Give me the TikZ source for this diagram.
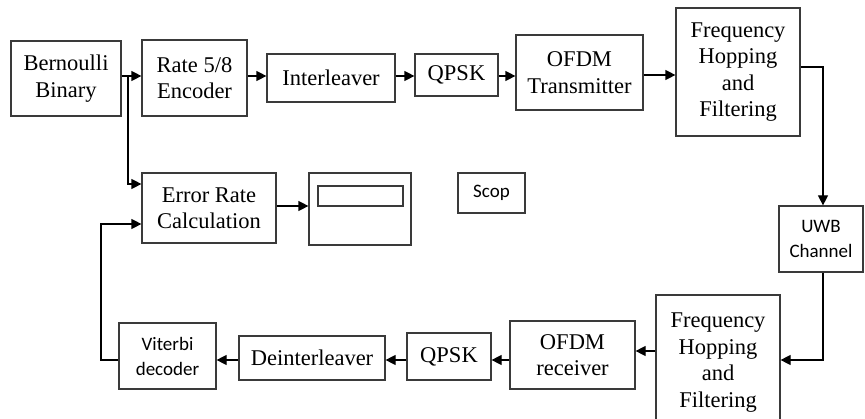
\documentclass[tikz,border=0pt]{standalone}
\usepackage{fontspec}
\setmainfont{Liberation Serif}
\newfontfamily\calfont{Carlito}
\usetikzlibrary{arrows.meta}
\definecolor{edge}{HTML}{3A3A3A}
\begin{document}
\begin{tikzpicture}[x=1pt,y=-1pt,
  box/.style={draw=edge,line width=1.2pt,fill=white,align=center,inner sep=0pt,
    font=\fontsize{22.5}{26.5}\selectfont},
  sbox/.style={box,font=\calfont\fontsize{19}{25}\selectfont},
  arr/.style={draw=edge,line width=1.2pt,-{Triangle[length=10pt,width=10pt]},color=black},
  ln/.style={draw=edge,line width=1.2pt}]
\useasboundingbox (0,0) rectangle (865,419);
\clip (0,0) rectangle (865,419);
% top row
\node[box,minimum width=110pt,minimum height=75pt] (bern) at (66,78.5) {Bernoulli\\Binary};
\node[box,minimum width=105pt,minimum height=76pt] (enc) at (194.5,78) {Rate 5/8\\Encoder};
\node[box,minimum width=128pt,minimum height=48pt] (inter) at (331,78) {Interleaver};
\node[box,minimum width=83pt,minimum height=42pt] (qpskt) at (456.5,75) {QPSK};
\node[box,minimum width=127pt,minimum height=75pt] (ofdmt) at (579.5,72.5) {OFDM\\Transmitter};
\node[box,minimum width=124pt,minimum height=128pt] (fht) at (738,72) {Frequency\\Hopping\\and\\Filtering};
\node[sbox,minimum width=84pt,minimum height=66pt] (uwb) at (821,239) {UWB\\Channel};
% middle
\node[box,minimum width=134pt,minimum height=70pt] (err) at (209,208) {Error Rate\\Calculation};
\node[box,minimum width=102pt,minimum height=72pt] (disp) at (360,209) {};
\node[draw=edge,line width=1.2pt,minimum width=85pt,minimum height=20pt,inner sep=0pt] (dispin) at (360.5,196) {};
\node[sbox,minimum width=67pt,minimum height=40pt] (scop) at (491.5,193) {Scop};
% bottom row
\node[box,minimum width=124pt,minimum height=135pt] (fhb) at (718,362.5) {Frequency\\Hopping\\and\\Filtering};
\node[box,minimum width=125pt,minimum height=68pt] (ofdmr) at (572.5,355) {OFDM\\receiver};
\node[box,minimum width=84pt,minimum height=47pt] (qpskb) at (449,356.5) {QPSK};
\node[box,minimum width=146pt,minimum height=44pt] (deint) at (312,358) {Deinterleaver};
\node[sbox,minimum width=97pt,minimum height=66pt] (vit) at (167.5,356) {Viterbi\\decoder};
% connectors top
\coordinate (br) at (128,76);
\draw[arr] (bern.east |- br) -- (enc.west |- br);
\draw[arr] (br) |- (err.west |- 0,184);
\draw[arr] (enc.east |- 0,76) -- (inter.west |- 0,76);
\draw[arr] (inter.east |- 0,76) -- (qpskt.west |- 0,76);
\draw[arr] (qpskt.east |- 0,76) -- (ofdmt.west |- 0,76);
\draw[arr] (ofdmt.east |- 0,75) -- (fht.west |- 0,75);
\coordinate (c1) at (823,67);
\draw[arr] (fht.east |- c1) -| (uwb.north -| c1);
\coordinate (c2) at (823,360);
\draw[arr] (uwb.south -| c2) |- (fhb.east |- c2);
% bottom
\draw[arr] (fhb.west |- 0,351) -- (ofdmr.east |- 0,351);
\draw[arr] (ofdmr.west |- 0,360) -- (qpskb.east |- 0,360);
\draw[arr] (qpskb.west |- 0,360) -- (deint.east |- 0,360);
\draw[arr] (deint.west |- 0,360) -- (vit.east |- 0,360);
\coordinate (c3) at (101,224);
\draw[arr] (vit.west |- 0,360) -| (c3) -- (err.west |- c3);
\draw[arr] (err.east |- 0,206) -- (disp.west |- 0,206);
\end{tikzpicture}
\end{document}
